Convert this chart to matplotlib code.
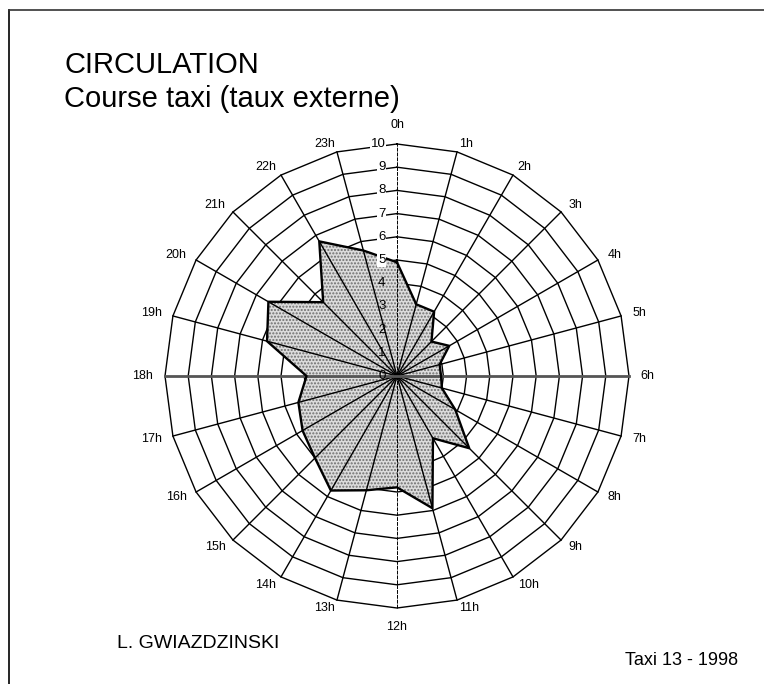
import numpy as np
import matplotlib.pyplot as plt
from matplotlib.lines import Line2D

# heures (libelles des rayons) et valeurs
heures = ['0h', '1h', '2h', '3h', '4h', '5h', '6h', '7h', '8h', '9h', '10h', '11h',
          '12h', '13h', '14h', '15h', '16h', '17h', '18h', '19h', '20h', '21h', '22h', '23h']
valeurs = [4.9, 3.2, 3.2, 2.1, 2.6, 1.9, 1.9, 2.0, 2.9, 4.4, 3.1, 5.9,
           4.8, 5.1, 5.7, 5.0, 4.7, 4.4, 3.9, 5.8, 6.4, 4.5, 6.7, 5.6]
graduations = [0, 1, 2, 3, 4, 5, 6, 7, 8, 9, 10]

W, H = 764, 684
cx, cy = 397, 376      # centre du radar en pixels
ech = 23.2             # pixels par unite

petit = ['Liberation Sans Narrow', 'Liberation Sans', 'DejaVu Sans']
grand = ['Liberation Sans', 'DejaVu Sans']

fig = plt.figure(figsize=(W / 100, H / 100), dpi=100)
ax = fig.add_axes([0, 0, 1, 1])
ax.set_xlim(-cx / ech, (W - cx) / ech)
ax.set_ylim(-(H - cy) / ech, cy / ech)
ax.axis('off')

n = len(heures)
theta = np.deg2rad(np.arange(n) * 360 / n)
sx = np.sin(theta)
sy = np.cos(theta)
rmax = graduations[-1]

# anneaux polygonaux
for r in graduations[1:]:
    ax.plot(np.append(r * sx, r * sx[0]), np.append(r * sy, r * sy[0]),
            color='black', lw=1.0, zorder=1)

# surface remplie (pointille gris)
v = np.array(valeurs)
px = v * sx
py = v * sy
ax.fill(px, py, facecolor='#dcdcdc', edgecolor='none', zorder=2)
ax.fill(px, py, facecolor='none', edgecolor='#6e6e6e', hatch='.....', lw=0, zorder=2.5)

# rayons
for i in range(n):
    if i % 6 == 0:
        continue
    ax.plot([0, rmax * sx[i]], [0, rmax * sy[i]], color='black', lw=1.0, zorder=3)
ax.plot([0, 0], [-rmax, rmax], color='black', lw=0.7, ls=(0, (4, 1)), zorder=4)
ax.plot([-rmax, rmax], [0, 0], color='#555555', lw=2.0, zorder=4)

# contour
ax.plot(np.append(px, px[0]), np.append(py, py[0]), color='black', lw=1.7, zorder=5)

# graduations le long de l'axe 0h
for r in graduations:
    bb = dict(facecolor='white', edgecolor='none', pad=0.6) if r > valeurs[0] else None
    ax.text(-0.5, r, str(r), ha='right', va='center', fontsize=9.5,
            family=petit, bbox=bb, zorder=6)

# libelles des heures
for i, lab in enumerate(heures):
    s, c = sx[i], sy[i]
    if abs(s) < 0.1:
        ha = 'center'
        rr = 10.8
    else:
        ha = 'left' if s > 0 else 'right'
        rr = 10.3 + 0.2 * abs(s)
    ax.text(rr * s, rr * c, lab, ha=ha, va='center', fontsize=9, family=petit)

# titres
fig.text(64 / W, 1 - 73 / H, 'CIRCULATION', fontsize=21, family=grand, va='baseline')
fig.text(64 / W, 1 - 107 / H, 'Course taxi (taux externe)', fontsize=21, family=grand,
         va='baseline')
fig.text(117 / W, 1 - 648 / H, 'L. GWIAZDZINSKI', fontsize=14, family=grand, va='baseline')
fig.text(625 / W, 1 - 665 / H, 'Taxi 13 - 1998', fontsize=13, family=petit, va='baseline')

# cadre
fig.add_artist(Line2D([9 / W, 9 / W], [0, 1 - 10 / H], transform=fig.transFigure,
                      color='black', lw=1.2))
fig.add_artist(Line2D([9 / W, 1], [1 - 10 / H, 1 - 10 / H], transform=fig.transFigure,
                      color='#333333', lw=1.2))

fig.savefig('out.png', dpi=100)
